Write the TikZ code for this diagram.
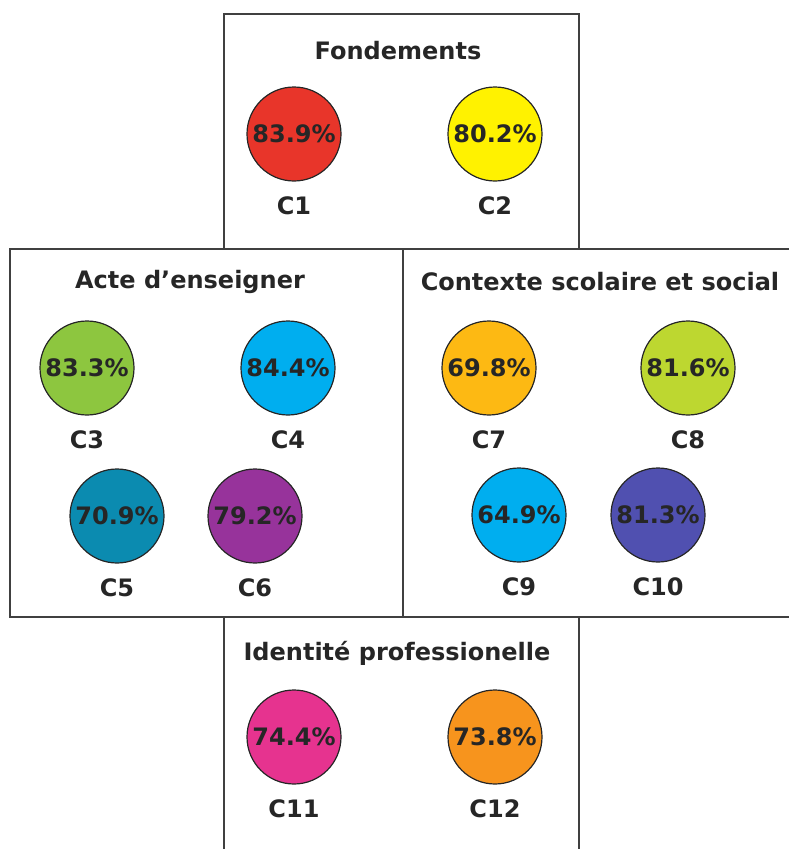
\documentclass[tikz,border=0pt]{standalone}
\usepackage{fontspec}
\setmainfont{DejaVu Sans}
\definecolor{col1}{HTML}{E8352A}
\definecolor{col2}{HTML}{FFF200}
\definecolor{col3}{HTML}{8DC63F}
\definecolor{col4}{HTML}{00AEEF}
\definecolor{col5}{HTML}{0B8BB0}
\definecolor{col6}{HTML}{97339B}
\definecolor{col7}{HTML}{FDB913}
\definecolor{col8}{HTML}{BDD730}
\definecolor{col9}{HTML}{00AEEF}
\definecolor{col10}{HTML}{5050B0}
\definecolor{col11}{HTML}{E6338F}
\definecolor{col12}{HTML}{F7941D}
\tikzset{
  comp/.style={circle, draw=black!85, line width=1.2pt, minimum size=94pt, inner sep=0pt,
    font=\fontsize{24}{24}\selectfont\bfseries, text=black!85},
  lab/.style={font=\fontsize{24}{24}\selectfont\bfseries, text=black!85},
  titre/.style={font=\fontsize{24}{24}\selectfont\bfseries, text=black!85},
  cadre/.style={draw=black!75, line width=1.2pt}
}
\begin{document}
\begin{tikzpicture}[x=1pt, y=-1pt]
                \useasboundingbox (0,0) rectangle (789,849);
                \clip (0,0) rectangle (789,849);
                \draw [cadre] (224,14) rectangle (579,249);
                \draw [cadre] (10,249) rectangle (403,617);
                \draw [cadre] (403,249) rectangle (810,617);
                \draw [cadre] (224,617) rectangle (579,870);
                \node [titre] (fond) at (398,51) {Fondements};
                \node [titre] (acte) at (190,282) {Acte d’enseigner};
                \node [titre] (ctx) at (600,282) {Contexte scolaire et social};
                \node [titre] (ident) at (397,653) {Identité professionelle};
                \foreach \n/\x/\y/\v in {1/294/134/83.9, 2/495/134/80.2,
                    3/87/368/83.3, 4/288/368/84.4, 5/117/516/70.9, 6/255/516/79.2,
                    7/489/368/69.8, 8/688/368/81.6, 9/519/515/64.9, 10/658/515/81.3,
                    11/294/737/74.4, 12/495/737/73.8}
                {
                  \node [comp, fill=col\n] (c\n) at (\x,\y) {\v\%};
                  \node [lab] (l\n) at (\x,\y+72) {C\n};
                }
\end{tikzpicture}
\end{document}
